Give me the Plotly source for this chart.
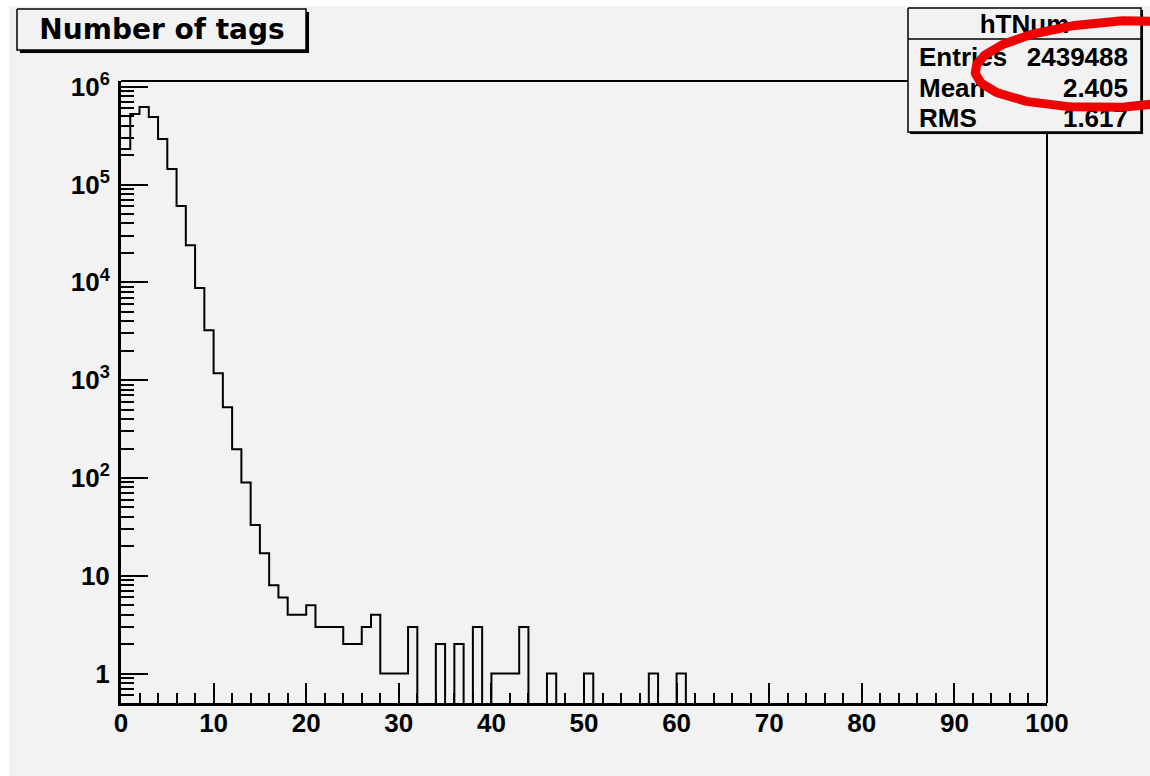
import numpy as np
import plotly.graph_objects as go

W, H = 1150, 776

# ---- histogram contents: unit-wide bins from 0 to 100 ----
bin_edges = list(range(0, 101))
counts = [231000, 527000, 621000, 491000, 292000, 144000, 60300, 24000, 8730, 3240,
          1177, 528, 196, 90, 33, 17, 8, 6, 4, 4,
          5, 3, 3, 3, 2, 2, 3, 4, 1, 1,
          1, 3, 0, 0, 2, 0, 2, 0, 3, 0,
          1, 1, 1, 3, 0, 0, 1, 0, 0, 0,
          1, 0, 0, 0, 0, 0, 0, 1, 0, 0,
          1, 0, 0, 0, 0, 0, 0, 0, 0, 0,
          0, 0, 0, 0, 0, 0, 0, 0, 0, 0,
          0, 0, 0, 0, 0, 0, 0, 0, 0, 0,
          0, 0, 0, 0, 0, 0, 0, 0, 0, 0]

# ---- statistics box ----
hist_name = "hTNum"
stat_labels = ["Entries", "Mean", "RMS"]
stat_values = ["2439488", "2.405", "1.617"]
title_text = "Number of tags"

# ---- axis ticks ----
x_range = [0, 100]
y_min, y_max = 0.5, 1.145e6
y_tickvals = [1, 10, 100, 1e3, 1e4, 1e5, 1e6]
y_ticktext = ["1", "10", "10<sup>2</sup>", "10<sup>3</sup>", "10<sup>4</sup>",
              "10<sup>5</sup>", "10<sup>6</sup>"]
y_minor = [m * 10.0 ** e for e in range(-1, 7) for m in range(2, 10)
           if y_min <= m * 10.0 ** e <= y_max]

# ---- canvas geometry (pixels) ----
FL, FR, FT, FB = 121, 1047, 81, 703          # histogram frame
GRAY = "#f2f2f2"
FONT = "Liberation Sans, Arial, sans-serif"


def pdom_x(a, b):
    return [a / W, b / W]


def pdom_y(top, bottom):
    return [1 - bottom / H, 1 - top / H]


fig = go.Figure()

# step outline of the histogram; empty bins fall below the frame and get clipped
floor_val = 10 ** (np.log10(y_min) - 1)
step_y = [c if c > 0 else floor_val for c in counts]
step_y = step_y + [step_y[-1]]
fig.add_trace(go.Scatter(
    x=bin_edges, y=step_y, mode="lines", line=dict(color="black", width=2, shape="hv"),
    hoverinfo="skip", showlegend=False, xaxis="x", yaxis="y"))


# ---- pixel-space overlay: frame edges, boxes, texts and the marker ellipse ----
def px_line(xs, ys, color="black", width=2):
    fig.add_trace(go.Scatter(x=xs, y=ys, mode="lines",
                             line=dict(color=color, width=width),
                             hoverinfo="skip", showlegend=False,
                             xaxis="x2", yaxis="y2"))


def px_rect(x0, y0, x1, y1, fill, line_color=None, line_width=0):
    fig.add_trace(go.Scatter(x=[x0, x1, x1, x0, x0], y=[y0, y0, y1, y1, y0],
                             mode="lines", fill="toself", fillcolor=fill,
                             line=dict(color=line_color or fill, width=line_width or 0.1),
                             hoverinfo="skip", showlegend=False,
                             xaxis="x2", yaxis="y2"))


def px_text(x, y, text, pos, size, family=FONT):
    fig.add_trace(go.Scatter(x=[x], y=[y], mode="text", text=[text], textposition=pos,
                             textfont=dict(family=family, size=size, color="black",
                                           weight="bold"),
                             cliponaxis=False, hoverinfo="skip", showlegend=False,
                             xaxis="x2", yaxis="y2"))


# top and right frame edges
px_line([FL, FR, FR], [FT, FT, FB], width=2)

# title box with shadow
px_rect(20, 12, 309, 53, "black")
px_rect(17, 9, 306, 50, GRAY, "black", 1.5)
px_text(162, 32, title_text, "middle center", 28, "DejaVu Sans, sans-serif")

# statistics box with shadow
SL, ST, SR, SB = 908, 8, 1141, 132
px_rect(SL + 2, ST + 2, SR + 2, SB + 2, "black")
px_rect(SL, ST, SR, SB, GRAY, "black", 1.5)
px_line([SL, SR], [39, 39], width=1.5)
px_text((SL + SR) / 2, 26, hist_name, "middle center", 26)
for i, (lab, val) in enumerate(zip(stat_labels, stat_values)):
    yy = [59, 90, 120][i]
    px_text(SL + 11, yy, lab, "middle right", 26)
    px_text(SR - 13, yy, val, "middle left", 26)

# red marker ellipse around the entries/mean values
cx, cy, a, b, phi = 1122, 64, 147, 43, np.deg2rad(-3)
t = np.linspace(0, 2 * np.pi, 241)
ex = cx + a * np.cos(t) * np.cos(phi) - b * np.sin(t) * np.sin(phi)
ey = cy + a * np.cos(t) * np.sin(phi) + b * np.sin(t) * np.cos(phi)
px_line(list(ex), list(ey), color="#f00000", width=9)

tickfont = dict(family=FONT, size=26, color="black", weight="bold")

fig.update_layout(
    width=W, height=H,
    margin=dict(l=0, r=0, t=0, b=0, pad=0, autoexpand=False),
    paper_bgcolor="white",
    plot_bgcolor="rgba(0,0,0,0)",
    showlegend=False,
    shapes=[dict(type="rect", xref="paper", yref="paper", x0=9 / W, x1=1, y0=0,
                 y1=1 - 6 / H, fillcolor=GRAY, line=dict(width=0), layer="below")],
    xaxis=dict(domain=pdom_x(FL, FR), range=x_range, anchor="y", automargin=False,
               showline=True, linewidth=3, linecolor="black", mirror=False,
               ticks="inside", ticklen=20, tickwidth=2, tickcolor="black",
               tick0=0, dtick=10, tickfont=tickfont, showgrid=False, zeroline=False,
               ticklabelstandoff=-5,
               minor=dict(ticks="inside", ticklen=10, tickwidth=2, tickcolor="black",
                          tick0=0, dtick=2, showgrid=False),
               fixedrange=True),
    yaxis=dict(domain=pdom_y(FT, FB), type="log", automargin=False,
               range=[np.log10(y_min), np.log10(y_max)], anchor="x",
               showline=True, linewidth=3, linecolor="black", mirror=False,
               ticks="inside", ticklen=27, tickwidth=2, tickcolor="black",
               tickmode="array", tickvals=y_tickvals, ticktext=y_ticktext,
               ticklabelstandoff=3,
               tickfont=tickfont, showgrid=False, zeroline=False,
               minor=dict(ticks="inside", ticklen=13, tickwidth=2, tickcolor="black",
                          tickmode="array", tickvals=y_minor, showgrid=False),
               fixedrange=True),
    xaxis2=dict(domain=[0, 1], range=[0, W], anchor="y2", visible=False,
                automargin=False, fixedrange=True),
    yaxis2=dict(domain=[0, 1], range=[H, 0], anchor="x2", visible=False,
                automargin=False, fixedrange=True),
)

fig.write_html("out.html")
